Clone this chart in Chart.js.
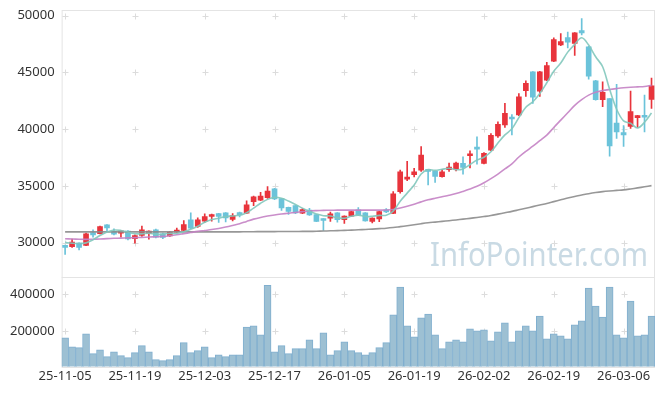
<!DOCTYPE html>
<html>
<head>
<meta charset="utf-8">
<script src="https://cdn.jsdelivr.net/npm/chart.js@4"></script>
<style>
html, body { margin: 0; padding: 0; background: #fff; }
#c { display: block; }
</style>
</head>
<body>
<canvas id="c" width="665" height="396"></canvas>
<script>
//---------------- DATA ----------------
const dates = [
  "25-11-05","25-11-06","25-11-07","25-11-10","25-11-11","25-11-12","25-11-13","25-11-14","25-11-17","25-11-18",
  "25-11-19","25-11-20","25-11-21","25-11-24","25-11-25","25-11-26","25-11-27","25-11-28","25-12-01","25-12-02",
  "25-12-03","25-12-04","25-12-05","25-12-08","25-12-09","25-12-10","25-12-11","25-12-12","25-12-15","25-12-16",
  "25-12-17","25-12-18","25-12-19","25-12-22","25-12-23","25-12-24","25-12-26","25-12-29","25-12-30","26-01-02",
  "26-01-05","26-01-06","26-01-07","26-01-08","26-01-09","26-01-12","26-01-13","26-01-14","26-01-15","26-01-16",
  "26-01-19","26-01-20","26-01-21","26-01-22","26-01-23","26-01-26","26-01-27","26-01-28","26-01-29","26-01-30",
  "26-02-02","26-02-03","26-02-04","26-02-05","26-02-06","26-02-09","26-02-10","26-02-11","26-02-12","26-02-13",
  "26-02-19","26-02-20","26-02-23","26-02-24","26-02-25","26-02-26","26-02-27","26-03-03","26-03-04","26-03-05",
  "26-03-06","26-03-09","26-03-10","26-03-11","26-03-12"
];

const opens = [
  29760,29650,29970,29760,30900,30800,31580,31000,30850,31030,
  30360,30650,30790,31140,30790,30610,30940,31080,32020,31430,
  31900,32310,32570,32630,32050,32660,32600,33620,33750,33970,
  34740,33880,33130,33270,32600,32870,32480,32100,32170,32630,
  32040,32340,32890,32630,31870,32100,32830,32590,34500,35610,
  35990,36400,36370,36290,35820,36430,36490,36990,37660,38330,
  36990,38160,39410,40380,41040,41250,43390,45060,43360,44320,
  45990,47430,48070,47550,48680,47250,44270,42600,42690,40530,
  39710,40240,41020,41230,42630
];
const highs = [
  29800,30320,30000,30850,31140,31460,31600,31230,31100,31080,
  30700,31460,31060,31200,30850,31000,31290,31960,32630,32200,
  32540,32520,32600,32660,32570,32700,33700,34100,34450,34950,
  34800,33900,33150,33300,33000,33040,32500,32120,32690,32660,
  32370,32780,33100,32650,32200,32780,33000,34500,36400,37170,
  36550,38480,36400,36330,36460,37020,37100,37570,38100,39320,
  37950,39620,40640,42280,41280,43130,44270,45080,45100,45900,
  48040,48420,48560,48510,49750,47300,44300,44180,42700,43950,
  40330,43360,41230,43010,44500
];
const lows = [
  28980,29590,29360,29740,30500,30780,31030,30700,30500,30250,
  29970,30560,30320,30420,30350,30560,30900,31000,31230,31350,
  31780,31900,31780,31840,31930,32280,32550,33270,33700,33900,
  33800,32850,32500,32550,32550,32400,31850,31080,31870,31810,
  31700,32300,32400,31900,31750,31850,32650,32550,34360,35470,
  35800,36280,35090,35320,35780,36290,36320,36050,36580,36930,
  36950,38100,39270,40150,39500,41200,42890,42280,42890,44280,
  45950,47350,47160,46490,48300,44400,42550,41990,37620,39180,
  38490,40070,40150,39770,41840
];
const closes = [
  29590,30060,29590,30790,30700,31420,31300,30750,31050,30330,
  30630,31140,31030,30480,30470,30940,31080,31610,31290,32020,
  32310,32480,32310,32190,32400,32460,33330,34040,34100,34560,
  33860,33060,32760,32620,32920,32460,31880,31960,32540,32040,
  32340,32750,32460,31930,32170,32750,32720,34300,36250,35700,
  36250,37720,36290,35850,36250,36670,37020,36640,37810,38250,
  37870,39470,40440,41400,40900,42850,44040,42830,45060,45610,
  47890,47720,47660,48490,48490,44670,42600,43240,38530,39770,
  39500,41550,41200,41050,43810
];

// moving averages as they appear in the picture
const ma5 = [
  30030,29960,29930,29990,30260,30640,30940,31120,31080,30940,
  30800,30780,30840,30740,30760,30820,30820,30960,31180,31450,
  31800,32040,32160,32300,32360,32420,32640,33050,33480,33820,
  34000,33920,33670,33370,33050,32770,32540,32380,32360,32190,
  32160,32330,32430,32310,32330,32410,32420,32790,33660,34370,
  35080,36060,36440,36370,36470,36560,36430,36500,36890,37290,
  37530,38020,38780,39500,40030,41020,41940,42420,43150,44090,
  45100,45830,46790,47470,48050,47410,46380,45500,43510,41760,
  40730,40520,40110,40610,41420
];
const ma20 = [
  30350,30330,30310,30300,30310,30330,30360,30390,30410,30430,
  30450,30470,30500,30530,30560,30620,30700,30800,30900,31000,
  31080,31160,31260,31380,31520,31670,31880,32080,32230,32350,
  32450,32530,32600,32670,32740,32800,32830,32850,32860,32870,
  32870,32870,32870,32870,32870,32870,32880,32930,33060,33220,
  33400,33600,33780,33920,34050,34180,34330,34520,34730,34970,
  35280,35650,36050,36500,36950,37550,38050,38500,39000,39480,
  40150,40800,41450,42100,42600,43000,43250,43400,43500,43580,
  43650,43700,43730,43760,43860
];
const ma60 = [
  30960,30960,30960,30960,30960,30960,30960,30960,30960,30960,
  30960,30960,30960,30960,30960,30960,30960,30960,30960,30960,
  30960,30960,30960,30960,30960,30960,30970,30970,30980,30980,
  30980,30990,30990,30990,31000,31000,31010,31030,31050,31070,
  31090,31110,31140,31170,31200,31240,31280,31340,31420,31500,
  31590,31680,31760,31820,31880,31940,32010,32080,32150,32230,
  32310,32400,32520,32640,32760,32900,33040,33180,33320,33460,
  33620,33780,33940,34080,34200,34320,34420,34500,34560,34610,
  34660,34740,34830,34930,35030
];

const volumes = [
  162000,114000,109000,184000,77000,98000,61000,87000,66000,55000,
  82000,120000,87000,45000,39000,45000,66000,136000,82000,93000,
  114000,55000,71000,61000,71000,71000,221000,227000,179000,446000,
  87000,120000,77000,104000,104000,152000,104000,189000,71000,93000,
  141000,93000,82000,71000,82000,109000,136000,286000,436000,227000,
  168000,270000,291000,179000,104000,141000,152000,141000,211000,200000,
  205000,146000,195000,243000,141000,200000,227000,200000,280000,157000,
  184000,173000,157000,232000,254000,431000,334000,275000,436000,179000,
  162000,361000,173000,179000,280000
];

const priceTicks = [30000, 35000, 40000, 45000, 50000];
const volumeTicks = [200000, 400000];
const watermark = "InfoPointer.com";

//---------------- STYLE ----------------
const upColor = "#e8343c",
  downColor = "#6bc3da",
  font = { family: "'Noto Sans', sans-serif", size: 13 };

let candleColors = opens.map((o, i) => (closes[i] >= o ? upColor : downColor));

// no extra room for half labels at the ends of the axes
function noPad(s) {
  s.paddingTop = 0;
  s.paddingBottom = 0;
  s.paddingLeft = 0;
  s.paddingRight = 0;
}

//---------------- PLUGIN: frame, grid crosses, watermark ----------------
const frame = {
  id: "frame",
  beforeDatasetsDraw(chart) {
    const ctx = chart.ctx,
      area = chart.chartArea,
      xs = chart.scales.x,
      ps = chart.scales.y;
    ctx.save();

    // watermark
    ctx.font = "32px 'Noto Sans', sans-serif";
    ctx.fillStyle = "#c9dae4";
    ctx.textBaseline = "alphabetic";
    let w = ctx.measureText(watermark).width;
    ctx.translate(area.right - 7 - 218, ps.bottom - 11);
    ctx.scale(218 / w, 1);
    ctx.fillText(watermark, 0, 0);
    ctx.setTransform(1, 0, 0, 1, 0, 0);

    ctx.lineWidth = 1;
    ["y", "vol"].forEach((id) => {
      const s = chart.scales[id];
      ctx.strokeStyle = "#e4e4e4";
      ctx.strokeRect(area.left + 0.5, Math.round(s.top) + 0.5, area.right - area.left - 1, Math.round(s.bottom - s.top));
      ctx.strokeStyle = "#dcdcdc";
      s.ticks.forEach((t) => {
        const py = Math.round(s.getPixelForValue(t.value)) + 0.5;
        for (let i = 0; i < dates.length; i += 10) {
          const px = Math.round(xs.getPixelForValue(i)) + 0.5;
          ctx.beginPath();
          ctx.moveTo(px - 3, py);
          ctx.lineTo(px + 3, py);
          ctx.moveTo(px, py - 3);
          ctx.lineTo(px, py + 3);
          ctx.stroke();
        }
      });
    });
    ctx.restore();
  },
};

//---------------- CHART ----------------
new Chart(document.getElementById("c"), {
  type: "bar",
  data: {
    labels: dates,
    datasets: [
      { type: "line", label: "MA5", data: ma5, yAxisID: "y", borderColor: "rgba(130,200,188,0.9)", borderWidth: 1.6, pointRadius: 0, tension: 0.35, order: 1 },
      { type: "line", label: "MA20", data: ma20, yAxisID: "y", borderColor: "rgba(196,130,196,0.9)", borderWidth: 1.6, pointRadius: 0, tension: 0.35, order: 1 },
      { type: "line", label: "MA60", data: ma60, yAxisID: "y", borderColor: "rgba(140,140,140,0.9)", borderWidth: 1.6, pointRadius: 0, tension: 0.35, order: 1 },
      {
        label: "body",
        data: opens.map((o, i) => [o, closes[i]]),
        yAxisID: "y",
        backgroundColor: candleColors,
        barThickness: 5,
        minBarLength: 2,
        grouped: false,
        order: 2,
      },
      {
        label: "wick",
        data: lows.map((l, i) => [l, highs[i]]),
        yAxisID: "y",
        backgroundColor: candleColors,
        barThickness: 1,
        grouped: false,
        order: 3,
      },
      {
        label: "volume",
        data: volumes,
        yAxisID: "vol",
        backgroundColor: "#9dc0d3",
        borderColor: "#80afcf",
        borderWidth: 1,
        barPercentage: 1,
        categoryPercentage: 1,
        grouped: false,
        order: 4,
      },
    ],
  },
  options: {
    responsive: false,
    animation: false,
    layout: { padding: { top: 10, right: 10, left: 3, bottom: 10 } },
    plugins: { legend: { display: false }, tooltip: { enabled: false } },
    scales: {
      x: {
        offset: true,
        grid: { display: false, drawTicks: false },
        border: { display: false },
        afterFit: noPad,
        ticks: {
          autoSkip: false,
          maxRotation: 0,
          padding: 2,
          color: "#333",
          font: font,
          callback: (v, i) => (i % 10 ? "" : dates[i]),
        },
      },
      vol: {
        position: "left",
        stack: "main",
        stackWeight: 90,
        min: 8000,
        max: 492000,
        grid: { display: false, drawTicks: false },
        border: { display: false },
        afterFit: noPad,
        afterBuildTicks: (s) => {
          s.ticks = volumeTicks.map((v) => ({ value: v }));
        },
        ticks: { padding: 7, color: "#333", font: font, callback: (v) => String(v) },
      },
      y: {
        position: "left",
        stack: "main",
        stackWeight: 268,
        min: 27000,
        max: 50500,
        grid: { display: false, drawTicks: false },
        border: { display: false },
        afterFit: noPad,
        afterBuildTicks: (s) => {
          s.ticks = priceTicks.map((v) => ({ value: v }));
        },
        ticks: { padding: 7, color: "#333", font: font, callback: (v) => String(v) },
      },
    },
  },
  plugins: [frame],
});
</script>
</body>
</html>
